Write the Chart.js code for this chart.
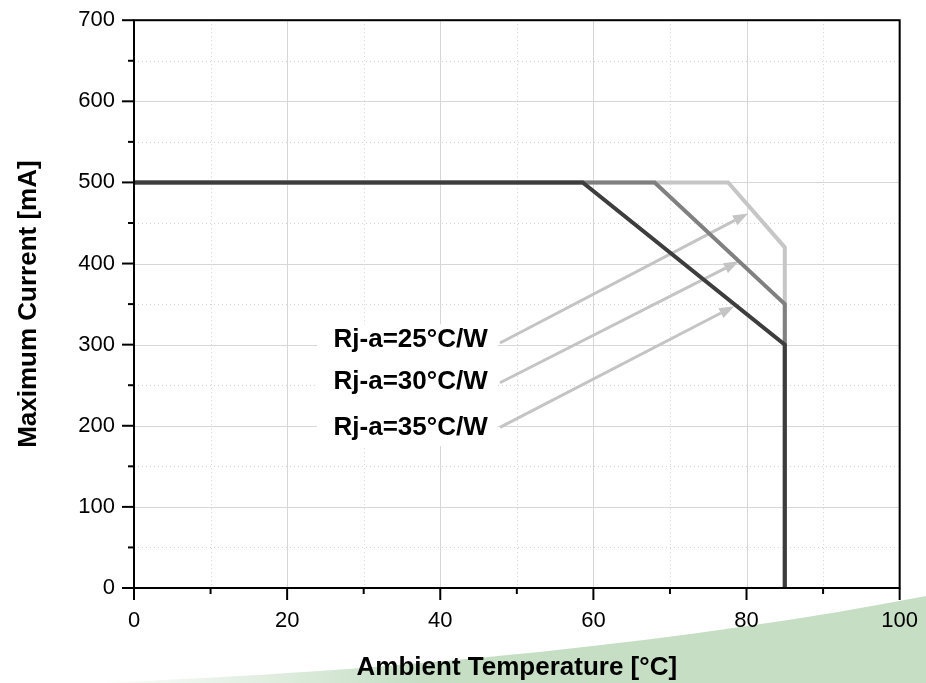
<!DOCTYPE html>
<html>
<head>
<meta charset="utf-8">
<script src="https://cdn.jsdelivr.net/npm/chart.js@4"></script>
<style>
  html, body { margin: 0; padding: 0; background: #fff; }
  #wrap { width: 926px; height: 683px; position: relative; }
</style>
</head>
<body>
<div id="wrap"><canvas id="derating"></canvas></div>
<script>
// derating curves (temp in degC, current in mA)
const temp35 = [0, 58.6, 85, 85];
const curr35 = [500, 500, 300, 0];
const temp30 = [0, 68, 85, 85];
const curr30 = [500, 500, 350, 0];
const temp25 = [0, 77.6, 85, 85];
const curr25 = [500, 500, 420, 0];

const curveNames = ['Rj-a=25°C/W', 'Rj-a=30°C/W', 'Rj-a=35°C/W'];

// callouts, in data units: label anchor (right edge), arrow tail and head
const labelX = 46.2;
const labelY = [306, 254, 198];
const arrowTailX = [47.8, 47.8, 47.8];
const arrowTailY = [302, 253, 198];
const arrowHeadX = [80.2, 79.0, 78.4];
const arrowHeadY = [461.7, 402.8, 347.5];

const FONT = 'Arial, "Liberation Sans", sans-serif';

function pts(xs, ys) {
  return xs.map((x, i) => ({ x, y: ys[i] }));
}

function drawArrow(ctx, x0, y0, x1, y1) {
  const ang = Math.atan2(y1 - y0, x1 - x0);
  const len = 15, half = 5.5;
  const bx = x1 - len * Math.cos(ang), by = y1 - len * Math.sin(ang);
  ctx.beginPath();
  ctx.moveTo(x0, y0);
  ctx.lineTo(bx, by);
  ctx.stroke();
  ctx.beginPath();
  ctx.moveTo(x1, y1);
  ctx.lineTo(bx + half * Math.sin(ang), by - half * Math.cos(ang));
  ctx.lineTo(bx - half * Math.sin(ang), by + half * Math.cos(ang));
  ctx.closePath();
  ctx.fill();
}

const decor = {
  id: 'decor',
  beforeDraw(chart) {
    const ctx = chart.ctx;
    ctx.save();
    ctx.fillStyle = '#fff';
    ctx.fillRect(0, 0, chart.width, chart.height);
    // green swoosh along the bottom
    const g = ctx.createLinearGradient(90, 0, 420, 0);
    g.addColorStop(0, 'rgba(197,222,196,0)');
    g.addColorStop(1, 'rgba(197,222,196,1)');
    ctx.fillStyle = g;
    ctx.beginPath();
    ctx.moveTo(90, 683);
    ctx.bezierCurveTo(400, 672, 700, 640, 926, 596);
    ctx.lineTo(926, 683);
    ctx.closePath();
    ctx.fill();
    ctx.restore();
  },
  beforeDatasetsDraw(chart) {
    const { ctx, chartArea: a, scales: { x, y } } = chart;
    ctx.save();
    ctx.lineWidth = 1;
    // grid: solid on major, dotted on minor
    x.ticks.forEach(t => {
      const px = Math.round(x.getPixelForValue(t.value)) + 0.5;
      const major = t.value % 20 === 0;
      ctx.strokeStyle = major ? '#d6d6d6' : '#d2d2d2';
      ctx.setLineDash(major ? [] : [1, 3]);
      ctx.beginPath();
      ctx.moveTo(px, a.top);
      ctx.lineTo(px, a.bottom);
      ctx.stroke();
    });
    y.ticks.forEach(t => {
      const py = Math.round(y.getPixelForValue(t.value)) + 0.5;
      const major = t.value % 100 === 0;
      ctx.strokeStyle = major ? '#d6d6d6' : '#d2d2d2';
      ctx.setLineDash(major ? [] : [1, 3]);
      ctx.beginPath();
      ctx.moveTo(a.left, py);
      ctx.lineTo(a.right, py);
      ctx.stroke();
    });
    ctx.setLineDash([]);

    // white panel behind the callout labels
    ctx.fillStyle = '#fff';
    const bx0 = x.getPixelForValue(23.9), bx1 = x.getPixelForValue(47.5);
    const by0 = y.getPixelForValue(325), by1 = y.getPixelForValue(175);
    ctx.fillRect(bx0, by0, bx1 - bx0, by1 - by0);

    ctx.fillStyle = '#000';
    ctx.font = 'bold 26px ' + FONT;
    ctx.textAlign = 'right';
    ctx.textBaseline = 'middle';
    curveNames.forEach((n, i) => {
      ctx.fillText(n, x.getPixelForValue(labelX), y.getPixelForValue(labelY[i]));
    });

    ctx.strokeStyle = '#c4c4c4';
    ctx.fillStyle = '#c4c4c4';
    ctx.lineWidth = 3;
    arrowTailX.forEach((_, i) => {
      drawArrow(ctx,
        x.getPixelForValue(arrowTailX[i]), y.getPixelForValue(arrowTailY[i]),
        x.getPixelForValue(arrowHeadX[i]), y.getPixelForValue(arrowHeadY[i]));
    });
    ctx.restore();
  },
  afterDatasetsDraw(chart) {
    const { ctx, chartArea: a, scales: { x, y } } = chart;
    ctx.save();
    ctx.strokeStyle = '#000';
    ctx.lineWidth = 2;
    ctx.strokeRect(a.left, a.top, a.right - a.left, a.bottom - a.top);
    x.ticks.forEach(t => {
      const px = x.getPixelForValue(t.value);
      const len = t.value % 20 === 0 ? 12 : 6;
      ctx.beginPath();
      ctx.moveTo(px, a.bottom);
      ctx.lineTo(px, a.bottom + len);
      ctx.stroke();
    });
    y.ticks.forEach(t => {
      const py = y.getPixelForValue(t.value);
      const len = t.value % 100 === 0 ? 12 : 6;
      ctx.beginPath();
      ctx.moveTo(a.left, py);
      ctx.lineTo(a.left - len, py);
      ctx.stroke();
    });
    ctx.restore();
  }
};

new Chart(document.getElementById('derating'), {
  type: 'line',
  data: {
    datasets: [
      { label: curveNames[2], data: pts(temp35, curr35), borderColor: '#3d3d3d' },
      { label: curveNames[1], data: pts(temp30, curr30), borderColor: '#808080' },
      { label: curveNames[0], data: pts(temp25, curr25), borderColor: '#c6c6c6' }
    ]
  },
  options: {
    responsive: true,
    maintainAspectRatio: false,
    animation: false,
    layout: { padding: { left: 0, top: 18, right: 20, bottom: 0 } },
    elements: {
      point: { radius: 0 },
      line: { borderWidth: 4, tension: 0, fill: false }
    },
    plugins: { legend: { display: false }, tooltip: { enabled: false } },
    scales: {
      x: {
        type: 'linear',
        min: 0,
        max: 100,
        afterFit: s => { s.height = 95; },
        ticks: {
          stepSize: 10,
          autoSkip: false,
          maxRotation: 0,
          padding: 8,
          color: '#000',
          font: { size: 22, family: FONT },
          callback: v => (v % 20 === 0 ? v : '')
        },
        grid: { drawOnChartArea: false, tickLength: 12, tickColor: 'rgba(0,0,0,0)' },
        border: { display: false },
        title: {
          display: true,
          text: 'Ambient Temperature [°C]',
          color: '#000',
          font: { size: 26, weight: 'bold', family: FONT },
          padding: { top: 0, bottom: 0 }
        }
      },
      y: {
        type: 'linear',
        min: 0,
        max: 700,
        afterFit: s => { s.width = 134; },
        ticks: {
          stepSize: 50,
          autoSkip: false,
          padding: 7,
          color: '#000',
          font: { size: 22, family: FONT },
          callback: v => (v % 100 === 0 ? v : '')
        },
        grid: { drawOnChartArea: false, tickLength: 12, tickColor: 'rgba(0,0,0,0)' },
        border: { display: false },
        title: {
          display: true,
          text: 'Maximum Current [mA]',
          color: '#000',
          font: { size: 26, weight: 'bold', family: FONT },
          padding: { top: 13, bottom: 0 }
        }
      }
    }
  },
  plugins: [decor]
});
</script>
</body>
</html>
